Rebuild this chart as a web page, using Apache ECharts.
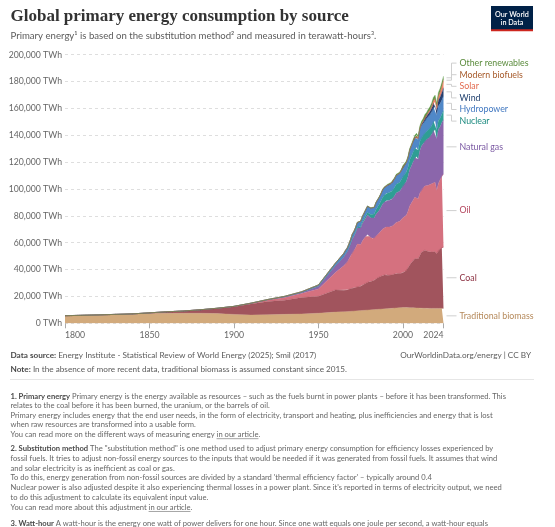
<!DOCTYPE html>
<html>
<head>
<meta charset="utf-8">
<script src="https://cdn.jsdelivr.net/npm/echarts@6/dist/echarts.min.js"></script>
<style>
  html, body { margin: 0; padding: 0; background: #fff; }
  #chart-container { width: 555px; height: 527px; }
</style>
</head>
<body>
<div id="chart-container"></div>
<script>
// years: Smil decadal estimates to 1960, then yearly from 1965
var years = [1800, 1810, 1820, 1830, 1840, 1850, 1860, 1870, 1880, 1890, 1900, 1910, 1920, 1930, 1940, 1950, 1960,
  1965, 1966, 1967, 1968, 1969, 1970, 1971, 1972, 1973, 1974,
  1975, 1976, 1977, 1978, 1979, 1980, 1981, 1982, 1983, 1984,
  1985, 1986, 1987, 1988, 1989, 1990, 1991, 1992, 1993, 1994,
  1995, 1996, 1997, 1998, 1999, 2000, 2001, 2002, 2003, 2004,
  2005, 2006, 2007, 2008, 2009, 2010, 2011, 2012, 2013, 2014,
  2015, 2016, 2017, 2018, 2019, 2020, 2021, 2022, 2023, 2024];

// TWh, substitution method
var biomass = [5556, 5833, 6111, 6389, 6667, 7222, 7500, 7500, 7500, 7222, 6611, 6111, 6389, 6667, 6944, 7500, 8333,
  8600, 8680, 8760, 8850, 8930, 9020, 9110, 9200, 9300, 9390,
  9480, 9570, 9660, 9750, 9840, 9930, 10020, 10110, 10200, 10300,
  10390, 10480, 10570, 10660, 10750, 10840, 10930, 11020, 11110, 11200,
  11300, 11400, 11500, 11600, 11700, 11800, 11760, 11700, 11650, 11600,
  11550, 11500, 11450, 11400, 11350, 11300, 11250, 11200, 11170, 11140,
  11111, 11111, 11111, 11111, 11111, 11111, 11111, 11111, 11111, 11111];
var coal = [97, 128, 153, 264, 356, 569, 1061, 1642, 2542, 3856, 5728, 8250, 9850, 10550, 12250, 12600, 16500,
  16100, 16300, 16000, 16400, 16900, 17300, 17200, 17400, 17900, 17900,
  18200, 18900, 19500, 19800, 20700, 21000, 21100, 21300, 21800, 22700,
  23500, 23800, 24500, 25000, 25300, 25300, 24900, 24700, 24800, 24900,
  25400, 25700, 25600, 25300, 25500, 26300, 26700, 27500, 29700, 31800,
  33500, 35100, 36700, 37300, 36800, 39200, 41700, 42100, 43300, 43400,
  42300, 41500, 41900, 42500, 42200, 40700, 43300, 44100, 45100, 45600];
var oil = [0, 0, 0, 0, 0, 0, 0, 6, 33, 89, 181, 386, 1097, 1981, 2925, 5444, 13000,
  18200, 19450, 20720, 22440, 24280, 26390, 27700, 29610, 31800, 31250,
  30940, 32800, 33890, 35060, 35530, 33970, 32670, 31640, 31420, 32000,
  32030, 32940, 33580, 34610, 35170, 35580, 35560, 35940, 35810, 36530,
  37170, 38000, 38920, 39080, 39970, 40440, 40750, 41220, 42110, 43970,
  44500, 44970, 45640, 45390, 44530, 46330, 46720, 47310, 47830, 48280,
  49330, 50170, 50860, 51390, 51670, 47030, 49610, 51670, 53420, 54400];
var gas = [0, 0, 0, 0, 0, 0, 0, 0, 0, 33, 64, 150, 233, 550, 878, 2092, 5000,
  6470, 7000, 7520, 8200, 9000, 10030, 10700, 11300, 11900, 12200,
  12300, 13000, 13300, 13800, 14600, 14610, 14700, 14700, 14900, 16000,
  16600, 16900, 17700, 18500, 19100, 19470, 19900, 20000, 20300, 20400,
  20900, 21900, 21900, 22300, 22900, 24110, 24400, 25200, 25800, 26900,
  27600, 28500, 29400, 30100, 29400, 31700, 32300, 33100, 33600, 33900,
  34970, 35900, 36780, 38610, 39310, 38420, 40390, 39420, 39610, 40580];
var nuclear = [0, 0, 0, 0, 0, 0, 0, 0, 0, 0, 0, 0, 0, 0, 0, 0, 20,
  70, 100, 120, 150, 190, 250, 340, 450, 610, 800,
  1140, 1310, 1570, 1840, 1910, 2110, 2450, 2690, 3020, 3590,
  4150, 4470, 4810, 5150, 5260, 5450, 5700, 5740, 5960, 6080,
  6290, 6500, 6470, 6590, 6790, 6900, 7050, 7130, 7020, 7290,
  7250, 7290, 7060, 6960, 6800, 6910, 6540, 6030, 6040, 6110,
  6400, 6450, 6450, 6560, 6720, 6480, 6660, 6340, 6450, 6620];
var hydro = [0, 0, 0, 0, 0, 0, 0, 0, 0, 0, 50, 100, 180, 350, 500, 930, 1900,
  2650, 2800, 2880, 3000, 3160, 3300, 3420, 3550, 3600, 3900,
  4000, 4050, 4150, 4400, 4580, 4680, 4760, 4880, 5040, 5160,
  5240, 5330, 5370, 5520, 5500, 5680, 5830, 5820, 6080, 6140,
  6420, 6500, 6610, 6650, 6700, 6830, 6700, 6790, 6810, 7170,
  7390, 7580, 7630, 7980, 8000, 8400, 8500, 8900, 9200, 9400,
  9900, 10200, 10300, 10500, 10600, 10900, 10700, 10800, 10400, 11000];
var wind = [0, 0, 0, 0, 0, 0, 0, 0, 0, 0, 0, 0, 0, 0, 0, 0, 0,
  0, 0, 0, 0, 0, 0, 0, 0, 0, 0,
  0, 0, 0, 0, 0, 0, 0, 0, 0, 0,
  0, 0, 0, 0, 0, 10, 12, 14, 17, 21,
  24, 27, 33, 45, 60, 85, 110, 145, 180, 230,
  280, 355, 450, 580, 730, 900, 1130, 1370, 1620, 1800,
  2100, 2390, 2790, 3080, 3470, 3880, 4490, 5090, 5600, 6100];
var solar = [0, 0, 0, 0, 0, 0, 0, 0, 0, 0, 0, 0, 0, 0, 0, 0, 0,
  0, 0, 0, 0, 0, 0, 0, 0, 0, 0,
  0, 0, 0, 0, 0, 0, 0, 0, 0, 0,
  0, 0, 0, 0, 0, 0, 0, 0, 0, 0,
  0, 0, 0, 0, 0, 3, 4, 5, 7, 10,
  12, 18, 20, 32, 52, 85, 170, 260, 360, 480,
  620, 800, 1080, 1380, 1660, 1970, 2420, 3040, 3870, 5000];
var biofuels = [0, 0, 0, 0, 0, 0, 0, 0, 0, 0, 0, 0, 0, 0, 0, 0, 0,
  0, 0, 0, 0, 0, 0, 0, 0, 0, 0,
  0, 0, 0, 0, 0, 0, 0, 0, 0, 0,
  0, 0, 0, 0, 0, 90, 90, 85, 85, 90,
  95, 100, 100, 95, 95, 100, 110, 130, 160, 180,
  210, 270, 340, 430, 480, 550, 560, 570, 620, 680,
  710, 720, 760, 830, 880, 830, 900, 960, 1070, 1180];
var otherRenewables = [0, 0, 0, 0, 0, 0, 0, 0, 0, 0, 0, 0, 0, 0, 0, 20, 40,
  60, 65, 70, 75, 80, 90, 100, 110, 120, 130,
  140, 150, 160, 180, 200, 220, 250, 280, 310, 360,
  400, 440, 470, 520, 570, 620, 660, 690, 720, 740,
  770, 800, 840, 850, 880, 890, 890, 950, 1000, 1070,
  1110, 1160, 1220, 1280, 1350, 1460, 1530, 1620, 1730, 1840,
  1940, 2000, 2080, 2170, 2240, 2250, 2330, 2360, 2400, 2430];

var sourceNames = ['Traditional biomass', 'Coal', 'Oil', 'Natural gas', 'Nuclear', 'Hydropower', 'Wind', 'Solar', 'Modern biofuels', 'Other renewables'];
var sourceValues = [biomass, coal, oil, gas, nuclear, hydro, wind, solar, biofuels, otherRenewables];
var xTicks = [1800, 1850, 1900, 1950, 2000, 2024];

var fillColors = ['#d2aa7c', '#a1545d', '#d5717f', '#8b66ab', '#2e9e94', '#5088c8', '#27406f', '#f5866b', '#a0643a', '#5b9a45'];
var labelColors = ['#b5895a', '#8c3142', '#b5475f', '#7a58a2', '#19897e', '#4178c0', '#1f3f6d', '#e26a4f', '#a65a2a', '#5a8b3c'];

var FONT = 'Lato, "Noto Sans", sans-serif';

var dom = document.getElementById('chart-container');
var myChart = echarts.init(dom, null, { renderer: 'canvas' });

myChart.setOption({
  animation: false,
  backgroundColor: '#fff',
  textStyle: { fontFamily: FONT },
  grid: { left: 65, right: 111.5, top: 54.7, bottom: 203.7, containLabel: false },
  xAxis: {
    type: 'value',
    min: 1800,
    max: 2024,
    axisLine: { show: false },
    splitLine: { show: false },
    axisTick: { show: true, customValues: xTicks, length: 5, lineStyle: { color: '#aaa' } },
    axisLabel: {
      customValues: xTicks,
      color: '#666',
      fontSize: 8.7,
      margin: 7,
      alignMinLabel: 'left',
      alignMaxLabel: 'right',
      formatter: function (v) { return String(v); }
    }
  },
  yAxis: {
    type: 'value',
    min: 0,
    max: 200000,
    interval: 20000,
    axisLine: { show: false },
    axisTick: { show: false },
    splitLine: { lineStyle: { color: '#dedede', type: [3, 3] } },
    axisLabel: {
      color: '#666',
      fontSize: 8.7,
      margin: 3,
      formatter: function (v) {
        return v.toLocaleString('en-US') + ' TWh';
      }
    }
  },
  series: sourceNames.map(function (name, i) {
    return {
      name: name,
      type: 'line',
      stack: 'total',
      // TWh first so that ECharts stacks the values, not the years
      encode: { x: 1, y: 0 },
      symbol: 'none',
      smooth: false,
      lineStyle: { width: 0.4, color: fillColors[i] },
      areaStyle: { color: fillColors[i], opacity: 1 },
      data: years.map(function (y, j) { return [sourceValues[i][j], y]; })
    };
  })
});

// ---- right-hand labels with leader lines ----
var last = years.length - 1;
var cum = 0;
var items = sourceNames.map(function (name, i) {
  var v = sourceValues[i][last];
  var mid = cum + v / 2;
  cum += v;
  var p = myChart.convertToPixel({ gridIndex: 0 }, [years[last], mid]);
  return { name: name, color: labelColors[i], anchor: p[1], y: p[1], edge: p[0] };
});
items.sort(function (a, b) { return a.anchor - b.anchor; });
var gap = 11.6;
for (var k = 0; k < 300; k++) {
  for (var i = 1; i < items.length; i++) {
    var d = items[i].y - items[i - 1].y;
    if (d < gap) {
      var s = (gap - d) / 2;
      items[i - 1].y -= s;
      items[i].y += s;
    }
  }
}

var graphics = [];
items.forEach(function (it) {
  var x0 = it.edge + 3;
  if (Math.abs(it.y - it.anchor) < 0.6) {
    graphics.push({ type: 'line', shape: { x1: x0, y1: it.y, x2: x0 + 10, y2: it.y }, style: { stroke: '#cfcfcf', lineWidth: 1 } });
  } else {
    graphics.push({
      type: 'polyline',
      shape: { points: [[x0, it.anchor], [x0 + 5, it.anchor], [x0 + 5, it.y], [x0 + 10, it.y]] },
      style: { stroke: '#cfcfcf', lineWidth: 1, fill: null }
    });
  }
  graphics.push({
    type: 'text', x: x0 + 13, y: it.y,
    style: { text: it.name, fill: it.color, font: '8.8px ' + FONT, verticalAlign: 'middle' }
  });
});

// ---- header ----
graphics.push({
  type: 'text', x: 10.5, y: 17,
  style: { text: 'Global primary energy consumption by source', fill: '#333', font: 'bold 17px "Liberation Serif", serif', verticalAlign: 'middle' }
});
graphics.push({
  type: 'text', x: 10.5, y: 36.4,
  style: { text: 'Primary energy\u00b9 is based on the substitution method\u00b2 and measured in terawatt-hours\u00b3.', fill: '#5b5b5b', font: '9.6px ' + FONT, verticalAlign: 'middle' }
});
// logo
graphics.push({ type: 'rect', shape: { x: 491, y: 6, width: 42, height: 25 }, style: { fill: '#002147' } });
graphics.push({ type: 'rect', shape: { x: 491, y: 29.3, width: 42, height: 1.9 }, style: { fill: '#ce261e' } });
graphics.push({ type: 'text', x: 512, y: 14.5, style: { text: 'Our World', fill: '#fff', font: '600 7.2px ' + FONT, align: 'center', verticalAlign: 'middle' } });
graphics.push({ type: 'text', x: 512, y: 22.3, style: { text: 'in Data', fill: '#fff', font: '600 7.2px ' + FONT, align: 'center', verticalAlign: 'middle' } });

// ---- footer ----
var measureCtx = document.createElement('canvas').getContext('2d');
function textWidth(str, font) {
  measureCtx.font = font;
  return measureCtx.measureText(str).width;
}

function richLine(x, y, bold, rest, size, color, linkText, tail) {
  var fontN = size + 'px ' + FONT;
  var fontB = 'bold ' + size + 'px ' + FONT;
  var cx = x;
  if (bold) {
    graphics.push({ type: 'text', x: cx, y: y, style: { text: bold, fill: '#4a4a4a', font: fontB, verticalAlign: 'middle' } });
    cx += textWidth(bold, fontB);
  }
  if (rest) {
    graphics.push({ type: 'text', x: cx, y: y, style: { text: rest, fill: color, font: fontN, verticalAlign: 'middle' } });
    cx += textWidth(rest, fontN);
  }
  if (linkText) {
    var w = textWidth(linkText, fontN);
    graphics.push({ type: 'text', x: cx, y: y, style: { text: linkText, fill: color, font: fontN, verticalAlign: 'middle' } });
    graphics.push({ type: 'line', shape: { x1: cx, y1: y + size * 0.55, x2: cx + w, y2: y + size * 0.55 }, style: { stroke: color, lineWidth: 0.6 } });
    cx += w;
    graphics.push({ type: 'text', x: cx, y: y, style: { text: tail, fill: color, font: fontN, verticalAlign: 'middle' } });
  }
}

var ff = 8.2;
richLine(10.5, 355.7, 'Data source:', ' Energy Institute - Statistical Review of World Energy (2025); Smil (2017)', ff, '#5b5b5b');
graphics.push({ type: 'text', x: 531, y: 355.7, style: { text: 'OurWorldinData.org/energy | CC BY', fill: '#5b5b5b', font: ff + 'px ' + FONT, align: 'right', verticalAlign: 'middle' } });
richLine(10.5, 369.5, 'Note:', ' In the absence of more recent data, traditional biomass is assumed constant since 2015.', ff, '#5b5b5b');
graphics.push({ type: 'line', shape: { x1: 10, y1: 379.5, x2: 534, y2: 379.5 }, style: { stroke: '#e6e6e6', lineWidth: 1 } });

var fs = 7.6;
var fc = '#666';
richLine(10.5, 396.5, '1. Primary energy', ' Primary energy is the energy available as resources \u2013 such as the fuels burnt in power plants \u2013 before it has been transformed. This', fs, fc);
richLine(10.5, 406, '', 'relates to the coal before it has been burned, the uranium, or the barrels of oil.', fs, fc);
richLine(10.5, 415.5, '', 'Primary energy includes energy that the end user needs, in the form of electricity, transport and heating, plus inefficiencies and energy that is lost', fs, fc);
richLine(10.5, 425, '', 'when raw resources are transformed into a usable form.', fs, fc);
richLine(10.5, 434.5, '', 'You can read more on the different ways of measuring energy ', fs, fc, 'in our article', '.');

richLine(10.5, 448.5, '2. Substitution method', ' The "substitution method" is one method used to adjust primary energy consumption for efficiency losses experienced by', fs, fc);
richLine(10.5, 458.3, '', 'fossil fuels. It tries to adjust non-fossil energy sources to the inputs that would be needed if it was generated from fossil fuels. It assumes that wind', fs, fc);
richLine(10.5, 468.1, '', 'and solar electricity is as inefficient as coal or gas.', fs, fc);
richLine(10.5, 477.9, '', 'To do this, energy generation from non-fossil sources are divided by a standard \'thermal efficiency factor\' \u2013 typically around 0.4', fs, fc);
richLine(10.5, 487.7, '', 'Nuclear power is also adjusted despite it also experiencing thermal losses in a power plant. Since it\'s reported in terms of electricity output, we need', fs, fc);
richLine(10.5, 497.5, '', 'to do this adjustment to calculate its equivalent input value.', fs, fc);
richLine(10.5, 507.3, '', 'You can read more about this adjustment ', fs, fc, 'in our article', '.');

richLine(10.5, 523.3, '3. Watt-hour', ' A watt-hour is the energy one watt of power delivers for one hour. Since one watt equals one joule per second, a watt-hour equals', fs, fc);
richLine(10.5, 533.1, '', '3600 joules of energy.', fs, fc);

myChart.setOption({ graphic: graphics });

window.addEventListener('resize', myChart.resize);
</script>
</body>
</html>
